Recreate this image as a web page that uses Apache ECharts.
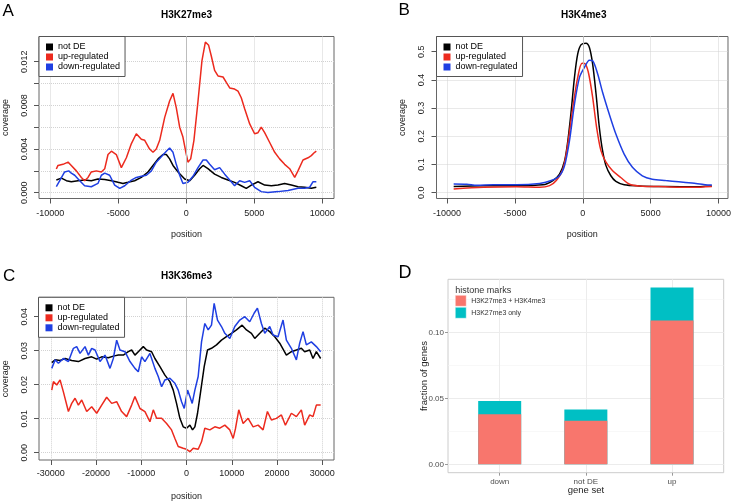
<!DOCTYPE html>
<html><head><meta charset="utf-8">
<script src="https://cdn.jsdelivr.net/npm/echarts@6/dist/echarts.min.js"></script>
<style>html,body{margin:0;padding:0;background:#fff}#c{width:734px;height:502px}</style>
</head><body><div id="c"></div>
<script>
// ---------- data ----------
const seriesNames = ['not DE', 'up-regulated', 'down-regulated'];

// Panel A: H3K27me3 coverage vs position
const aNotDE = [[-9560,0.00116],[-9190,0.00134],[-8820,0.0011],[-8460,0.0010],[-7970,0.0011],[-7480,0.00116],[-6990,0.0011],[-6500,0.00125],[-6000,0.0012],[-5510,0.0011],[-5020,0.00095],[-4660,0.00085],[-4290,0.00095],[-3800,0.0011],[-3310,0.0014],[-2820,0.0019],[-2450,0.0025],[-2080,0.0031],[-1720,0.0035],[-1470,0.0035],[-1230,0.0031],[-980,0.0025],[-610,0.0019],[-120,0.00125],[250,0.0011],[610,0.0016],[980,0.0022],[1230,0.0025],[1590,0.0022],[2080,0.0017],[2570,0.0014],[3060,0.00116],[3550,0.00095],[4040,0.00064],[4410,0.0004],[4780,0.0007],[5270,0.0010],[5760,0.0007],[6250,0.00064],[6740,0.0007],[7230,0.00085],[7720,0.0007],[8210,0.00055],[8700,0.0005],[9190,0.0004],[9560,0.0005]];
const aUp = [[-9560,0.00217],[-9440,0.0025],[-9070,0.0026],[-8700,0.0028],[-8460,0.0025],[-8090,0.0020],[-7720,0.0014],[-7480,0.0011],[-7230,0.0014],[-6990,0.0019],[-6620,0.0020],[-6250,0.0019],[-6000,0.0022],[-5760,0.0035],[-5510,0.0038],[-5150,0.0035],[-4780,0.0023],[-4410,0.0032],[-4040,0.0045],[-3680,0.0054],[-3310,0.0049],[-3060,0.0048],[-2700,0.0040],[-2450,0.0037],[-2210,0.0040],[-1960,0.0048],[-1590,0.0069],[-1230,0.0084],[-980,0.0091],[-740,0.0078],[-490,0.0060],[-250,0.0051],[-50,0.0038],[120,0.0028],[320,0.0031],[560,0.0048],[860,0.0084],[1150,0.0121],[1400,0.0138],[1640,0.0135],[1840,0.0125],[2080,0.0112],[2330,0.0107],[2700,0.0106],[2940,0.0101],[3190,0.0096],[3550,0.0095],[3800,0.0093],[4040,0.0087],[4290,0.0077],[4660,0.0063],[5020,0.0054],[5270,0.0055],[5510,0.0060],[5760,0.0055],[6130,0.0046],[6500,0.0037],[6860,0.0031],[7230,0.0026],[7600,0.0022],[7970,0.0014],[8210,0.0020],[8580,0.0030],[8950,0.0032],[9190,0.0034],[9440,0.0037],[9560,0.0038]];
const aDown = [[-9560,0.00055],[-9310,0.0011],[-8950,0.0019],[-8650,0.0020],[-8460,0.0018],[-8210,0.0016],[-7840,0.0011],[-7480,0.00064],[-6990,0.00055],[-6500,0.00085],[-6250,0.0016],[-6000,0.0018],[-5640,0.0016],[-5270,0.0007],[-4900,0.0004],[-4530,0.00064],[-4040,0.00116],[-3680,0.0014],[-3310,0.0015],[-2940,0.0016],[-2570,0.0020],[-2210,0.0028],[-1840,0.0033],[-1470,0.0038],[-1230,0.0041],[-980,0.0037],[-740,0.0026],[-490,0.0016],[-250,0.00085],[120,0.00095],[490,0.0015],[860,0.0023],[1230,0.0030],[1470,0.0030],[1720,0.0026],[2080,0.0021],[2450,0.0023],[2820,0.0017],[3190,0.00116],[3550,0.00064],[3920,0.0011],[4290,0.00095],[4660,0.0011],[5020,0.0005],[5510,0.0001],[6000,0.00003],[6740,0.0001],[7480,0.0002],[8210,0.0004],[8700,0.0004],[9070,0.0005],[9310,0.0010],[9560,0.0010]];

// Panel B: H3K4me3
const bNotDE = [[-9510,0.022],[-7320,0.025],[-4880,0.025],[-2930,0.028],[-2200,0.043],[-1710,0.066],[-1340,0.113],[-1100,0.184],[-850,0.291],[-610,0.409],[-370,0.492],[-120,0.525],[240,0.530],[490,0.515],[730,0.456],[980,0.350],[1220,0.232],[1460,0.149],[1710,0.096],[2070,0.060],[2440,0.040],[3050,0.028],[4150,0.024],[6100,0.022],[8050,0.021],[9510,0.024]];
const bUp = [[-9510,0.013],[-7320,0.019],[-4880,0.021],[-3170,0.019],[-2440,0.025],[-1950,0.043],[-1460,0.084],[-1100,0.173],[-730,0.303],[-370,0.409],[-50,0.459],[200,0.456],[440,0.421],[730,0.338],[1020,0.232],[1340,0.149],[1710,0.108],[2200,0.078],[2800,0.054],[3410,0.031],[4150,0.024],[6100,0.021],[8050,0.019],[9510,0.022]];
const bDown = [[-9510,0.031],[-8540,0.030],[-7800,0.026],[-6600,0.028],[-4880,0.028],[-3170,0.033],[-2320,0.043],[-1710,0.060],[-1340,0.096],[-980,0.184],[-610,0.314],[-240,0.409],[120,0.444],[490,0.470],[730,0.468],[1100,0.421],[1460,0.356],[1950,0.279],[2440,0.208],[3050,0.137],[3660,0.090],[4390,0.060],[5120,0.048],[6100,0.043],[7070,0.039],[8050,0.034],[9020,0.028],[9510,0.027]];

// Panel C: H3K36me3
const cNotDE = [[-29780,0.0265],[-29040,0.0273],[-27940,0.0271],[-26840,0.0277],[-25370,0.0271],[-23900,0.0268],[-22430,0.0277],[-20960,0.0282],[-19850,0.0275],[-18750,0.0282],[-17280,0.0279],[-16180,0.0284],[-15070,0.0287],[-13970,0.0287],[-12870,0.0297],[-12130,0.0302],[-11400,0.0287],[-10660,0.0297],[-9560,0.0312],[-8820,0.0302],[-7720,0.0297],[-6990,0.0277],[-5880,0.0253],[-4780,0.0228],[-3680,0.0209],[-2940,0.0184],[-2210,0.0145],[-1470,0.0101],[-740,0.0076],[0,0.0072],[740,0.0081],[1320,0.0067],[1840,0.0076],[2430,0.0116],[3160,0.0184],[3900,0.0253],[4630,0.0302],[5510,0.0307],[6620,0.0317],[7720,0.0331],[8820,0.0341],[9930,0.0351],[11030,0.0361],[12280,0.0375],[13240,0.0361],[14340,0.0351],[15070,0.0336],[16180,0.0351],[17280,0.0366],[18380,0.0356],[19490,0.0341],[20590,0.0322],[22060,0.0287],[23160,0.0297],[24270,0.0302],[25370,0.0307],[26100,0.0297],[27210,0.0302],[27940,0.0277],[28680,0.0297],[29630,0.0277]];
const cUp = [[-29780,0.0184],[-29410,0.0209],[-28680,0.0199],[-27940,0.0214],[-27210,0.0179],[-26100,0.0121],[-25370,0.0145],[-24630,0.0160],[-23900,0.0140],[-23160,0.0155],[-22060,0.0121],[-20960,0.0135],[-19850,0.0116],[-18750,0.0140],[-17650,0.0163],[-16540,0.0145],[-15440,0.0150],[-14340,0.0121],[-13240,0.0106],[-12130,0.0140],[-11400,0.0165],[-10290,0.0130],[-9190,0.0121],[-8090,0.0091],[-7350,0.0126],[-6620,0.0101],[-5510,0.0101],[-4410,0.0086],[-3310,0.0067],[-2570,0.0042],[-1840,0.0018],[-740,0.0013],[0,0.0010],[740,0.0003],[1470,0.0013],[2570,0.0010],[3310,0.0032],[4040,0.0072],[5150,0.0067],[6250,0.0076],[7350,0.0072],[8460,0.0081],[9560,0.0067],[10300,0.0042],[10800,0.0070],[11540,0.0126],[12500,0.0086],[13600,0.0101],[14710,0.0076],[15810,0.0081],[16910,0.0067],[17870,0.0121],[18750,0.0096],[19850,0.0101],[20960,0.0111],[21840,0.0081],[23160,0.0116],[24270,0.0106],[25370,0.0126],[26100,0.0081],[27210,0.0111],[27940,0.0106],[28680,0.0140],[29630,0.0140]];
const cDown = [[-29780,0.0248],[-29040,0.0273],[-28310,0.0263],[-27210,0.0277],[-26100,0.0268],[-25000,0.0307],[-24270,0.0312],[-23530,0.0292],[-22430,0.0312],[-21690,0.0287],[-20960,0.0307],[-20220,0.0302],[-19120,0.0268],[-18020,0.0287],[-16910,0.0248],[-16180,0.0277],[-15440,0.0331],[-14710,0.0302],[-13600,0.0297],[-12500,0.0268],[-11400,0.0248],[-10660,0.0238],[-9930,0.0282],[-9190,0.0268],[-8090,0.0292],[-6990,0.0248],[-6250,0.0224],[-5510,0.0194],[-4780,0.0214],[-3680,0.0219],[-2570,0.0204],[-1840,0.0184],[-1100,0.0150],[-510,0.0130],[220,0.0184],[740,0.0165],[1250,0.0145],[1840,0.0184],[2570,0.0224],[3310,0.0326],[4040,0.0380],[4780,0.0361],[5510,0.0375],[6100,0.0439],[6840,0.0390],[7720,0.0371],[8460,0.0351],[9560,0.0336],[10660,0.0371],[11760,0.0390],[12870,0.0400],[13970,0.0385],[14930,0.0410],[15660,0.0425],[16540,0.0380],[17280,0.0351],[18380,0.0371],[19120,0.0346],[20220,0.0341],[21320,0.0390],[22060,0.0331],[23160,0.0307],[24270,0.0273],[25000,0.0322],[25740,0.0356],[26470,0.0317],[27570,0.0326],[28680,0.0312],[29630,0.0297]];

// Panel D: fraction of genes
const geneSets = ['down', 'not DE', 'up'];
const markNames = ['H3K27me3 + H3K4me3', 'H3K27me3 only'];
const bothMarks = [0.038, 0.033, 0.109];
const k27Only = [0.010, 0.0085, 0.025];

// tick values
const xTicksAB = [-10000, -5000, 0, 5000, 10000];
const xTicksC = [-30000, -20000, -10000, 0, 10000, 20000, 30000];
const yTicksA = [0, 0.002, 0.004, 0.006, 0.008, 0.010, 0.012];
const yLabelsA = [0, 0.004, 0.008, 0.012];
const yTicksB = [0, 0.1, 0.2, 0.3, 0.4, 0.5];
const yTicksC = [0, 0.01, 0.02, 0.03, 0.04];
const yTicksD = [0, 0.05, 0.10];
const yMinorD = [0.025, 0.075, 0.125];

// ---------- styles ----------
const FF = '"Liberation Sans", Arial, Helvetica, sans-serif';
const colors = ['#000000', '#ec2a1e', '#1f3fe2'];
const grids = [
  {left: 39, top: 36.5, width: 295, height: 162},
  {left: 436.5, top: 36.5, width: 294, height: 162},
  {left: 38.5, top: 297.3, width: 295.5, height: 162.7},
  {left: 448, top: 279.3, width: 275.7, height: 193.4}
];
const ranges = [
  {x: [-10835, 10860], y: [-0.00053, 0.01431]},
  {x: [-10775, 10700], y: [-0.0206, 0.5539]},
  {x: [-32600, 32580], y: [-0.00215, 0.0457]},
  {x: [0.4, 3.6], y: [-0.00636, 0.14015]}
];

function rX(i, ticks, labelMargin) {
  return {
    type: 'value', gridIndex: i, min: ranges[i].x[0], max: ranges[i].x[1],
    axisLine: {show: false, onZero: false},
    axisTick: {show: true, customValues: ticks, length: 5, lineStyle: {color: '#555', width: 1}},
    axisLabel: {customValues: ticks, formatter: v => String(v), margin: labelMargin, fontSize: 9, color: '#222', fontFamily: FF},
    splitLine: {show: true, lineStyle: {color: '#d2d2d2', type: 'dotted', width: 1}},
    name: 'position', nameLocation: 'middle', nameGap: 32, nameMoveOverlap: false,
    nameTextStyle: {fontSize: 9, color: '#222', fontFamily: FF}
  };
}
function rY(i, ticks, labels, dec) {
  return {
    type: 'value', gridIndex: i, min: ranges[i].y[0], max: ranges[i].y[1],
    axisLine: {show: false, onZero: false},
    axisTick: {show: true, customValues: ticks, length: 5, lineStyle: {color: '#555', width: 1}},
    axisLabel: {customValues: labels, formatter: v => v.toFixed(dec), rotate: 90, margin: 10, fontSize: 9, color: '#222', fontFamily: FF},
    splitLine: {show: true, lineStyle: {color: '#d2d2d2', type: 'dotted', width: 1}},
    name: 'coverage', nameLocation: 'middle', nameGap: 29, nameMoveOverlap: false,
    nameTextStyle: {fontSize: 9, color: '#222', fontFamily: FF}
  };
}
function lineSeries(i, name, data, k, extra) {
  return Object.assign({
    type: 'line', name, xAxisIndex: i, yAxisIndex: i, data,
    symbol: 'none', showSymbol: false, animation: false, z: 3,
    lineStyle: {color: colors[k], width: 1.5}, itemStyle: {color: colors[k]}
  }, extra || {});
}
const zeroLine = {silent: true, symbol: 'none', label: {show: false}, animation: false,
  lineStyle: {color: '#bdbdbd', type: 'solid', width: 1}, data: [{xAxis: 0}]};

function rLegend(left, top) {
  return {
    left, top, orient: 'vertical', data: seriesNames, icon: 'rect',
    itemWidth: 7, itemHeight: 7, itemGap: 1, padding: [6, 5, 5, 7],
    borderColor: '#555', borderWidth: 1, backgroundColor: '#fff',
    selectedMode: false, z: 10,
    textStyle: {fontSize: 9, color: '#000', fontFamily: FF}
  };
}

const option = {
  animation: false,
  backgroundColor: '#fff',
  grid: grids.map((g, i) => Object.assign({show: true, borderColor: i === 3 ? '#cccccc' : '#666', borderWidth: 1, backgroundColor: '#fff', containLabel: false}, g)),
  xAxis: [
    rX(0, xTicksAB, 11),
    rX(1, xTicksAB, 11),
    rX(2, xTicksC, 9.5),
    {
      type: 'value', gridIndex: 3, min: ranges[3].x[0], max: ranges[3].x[1],
      axisLine: {show: false, onZero: false},
      axisTick: {show: true, customValues: [1, 2, 3], length: 3, lineStyle: {color: '#999'}},
      axisLabel: {customValues: [1, 2, 3], formatter: v => geneSets[Math.round(v) - 1], margin: 5, fontSize: 8, color: '#4d4d4d', fontFamily: FF},
      splitLine: {show: true, lineStyle: {color: '#ececec', width: 1}},
      name: 'gene set', nameLocation: 'middle', nameGap: 12.5, nameMoveOverlap: false,
      nameTextStyle: {fontSize: 9.5, color: '#222', fontFamily: FF}
    }
  ],
  yAxis: [
    rY(0, yTicksA, yLabelsA, 3),
    rY(1, yTicksB, yTicksB, 1),
    rY(2, yTicksC, yTicksC, 2),
    {
      type: 'value', gridIndex: 3, min: ranges[3].y[0], max: ranges[3].y[1],
      axisLine: {show: false, onZero: false},
      axisTick: {show: true, customValues: yTicksD, length: 3, lineStyle: {color: '#999'}},
      axisLabel: {customValues: yTicksD, formatter: v => v.toFixed(2), margin: 4, fontSize: 8, color: '#4d4d4d', fontFamily: FF},
      splitLine: {show: true, lineStyle: {color: '#ececec', width: 1}},
      name: 'fraction of genes', nameLocation: 'middle', nameGap: 19, nameMoveOverlap: false,
      nameTextStyle: {fontSize: 9.5, color: '#222', fontFamily: FF}
    },
    {
      type: 'value', gridIndex: 3, min: ranges[3].y[0], max: ranges[3].y[1], position: 'left',
      axisLine: {show: false, onZero: false}, axisLabel: {show: false},
      axisTick: {show: false, customValues: yMinorD},
      splitLine: {show: true, lineStyle: {color: '#f3f3f3', width: 0.6}}
    }
  ],
  legend: [
    rLegend(39, 36.5),
    rLegend(436.5, 36.5),
    rLegend(38.5, 297.3),
    {
      left: 455, top: 295, orient: 'vertical', data: markNames, icon: 'rect',
      itemWidth: 11, itemHeight: 11, itemGap: 0.5, padding: 0, selectedMode: false,
      itemStyle: {borderColor: '#fff', borderWidth: 0.5},
      textStyle: {fontSize: 7, color: '#333', fontFamily: FF}
    }
  ],
  series: [
    lineSeries(0, 'not DE', aNotDE, 0, {markLine: zeroLine}),
    lineSeries(0, 'up-regulated', aUp, 1),
    lineSeries(0, 'down-regulated', aDown, 2),
    lineSeries(1, 'not DE', bNotDE, 0, {markLine: zeroLine, smooth: 0.3}),
    lineSeries(1, 'up-regulated', bUp, 1, {smooth: 0.3}),
    lineSeries(1, 'down-regulated', bDown, 2, {smooth: 0.3}),
    lineSeries(2, 'not DE', cNotDE, 0, {markLine: zeroLine}),
    lineSeries(2, 'up-regulated', cUp, 1),
    lineSeries(2, 'down-regulated', cDown, 2),
    // teal segment sits on top of the salmon one: draw the total first, salmon over it
    {
      type: 'bar', name: markNames[1], xAxisIndex: 3, yAxisIndex: 3, barWidth: 43, barGap: '-100%', z: 2,
      data: k27Only.map((v, i) => [i + 1, v + bothMarks[i]]), itemStyle: {color: '#00BFC4'}
    },
    {
      type: 'bar', name: markNames[0], xAxisIndex: 3, yAxisIndex: 3, barWidth: 43, barGap: '-100%', z: 3,
      data: bothMarks.map((v, i) => [i + 1, v]), itemStyle: {color: '#F8766D'}
    }
  ],
  graphic: [
    {type: 'text', left: 2.5, top: 3, style: {text: 'A', font: '17px ' + FF, fill: '#000'}},
    {type: 'text', left: 398.5, top: 2, style: {text: 'B', font: '17px ' + FF, fill: '#000'}},
    {type: 'text', left: 3, top: 268, style: {text: 'C', font: '17px ' + FF, fill: '#000'}},
    {type: 'text', left: 398.5, top: 264, style: {text: 'D', font: '18px ' + FF, fill: '#000'}},
    {type: 'text', x: 186.5, y: 15.7, style: {text: 'H3K27me3', font: 'bold 10px ' + FF, fill: '#000', align: 'center', verticalAlign: 'middle', textAlign: 'center', textVerticalAlign: 'middle'}},
    {type: 'text', x: 583.7, y: 15.7, style: {text: 'H3K4me3', font: 'bold 10px ' + FF, fill: '#000', align: 'center', verticalAlign: 'middle', textAlign: 'center', textVerticalAlign: 'middle'}},
    {type: 'text', x: 186.5, y: 276, style: {text: 'H3K36me3', font: 'bold 10px ' + FF, fill: '#000', align: 'center', verticalAlign: 'middle', textAlign: 'center', textVerticalAlign: 'middle'}},
    {type: 'text', x: 455.3, y: 290.3, style: {text: 'histone marks', font: '9px ' + FF, fill: '#333', align: 'left', verticalAlign: 'middle', textAlign: 'left', textVerticalAlign: 'middle'}}
  ]
};

const chart = echarts.init(document.getElementById('c'), null, {renderer: 'canvas'});
chart.setOption(option);
</script>
</body></html>
